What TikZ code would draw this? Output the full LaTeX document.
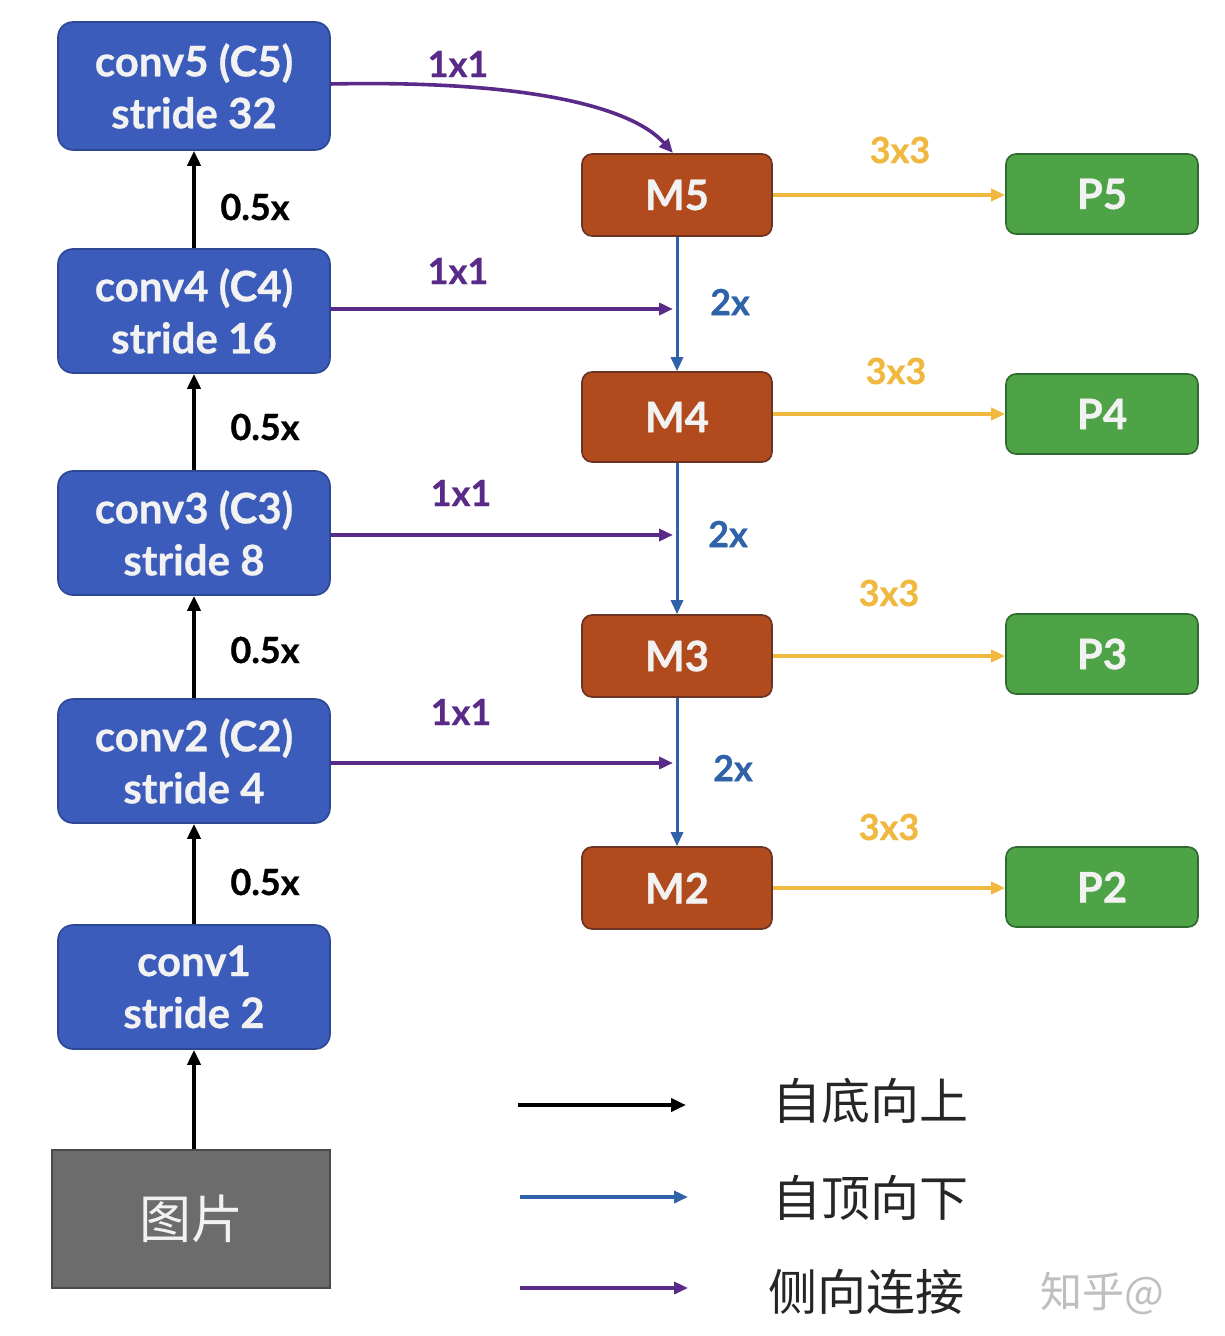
\documentclass[tikz,border=0pt]{standalone}
\usepackage{fontspec}
\setmainfont{Lato}
\newfontfamily\boxfont{Lato}[BoldFeatures={FakeBold=0.7}]
\newfontfamily\cjk{Noto Sans CJK SC}
\usetikzlibrary{arrows.meta}
\definecolor{cblue}{HTML}{3B5CBA}
\definecolor{cblueD}{HTML}{2C4794}
\definecolor{mfill}{HTML}{B14A1C}
\definecolor{mdraw}{HTML}{6A3322}
\definecolor{pfill}{HTML}{4DA346}
\definecolor{pdraw}{HTML}{2F6B30}
\definecolor{gfill}{HTML}{6C6C6C}
\definecolor{gdraw}{HTML}{4A4A4A}
\definecolor{lpurple}{HTML}{5A2A88}
\definecolor{lblue}{HTML}{2F62A8}
\definecolor{lyellow}{HTML}{F0B83E}
\definecolor{ltext}{HTML}{F2F2F2}
\begin{document}
\begin{tikzpicture}[x=0.5pt,y=-0.5pt,
  cbox/.style={draw=cblueD, line width=0.8pt, fill=cblue, rounded corners=7.5pt,
    minimum width=136pt, minimum height=62pt, align=center, text=ltext,
    font=\boxfont\bfseries\fontsize{21}{26}\selectfont, inner sep=0pt},
  mbox/.style={draw=mdraw, line width=0.8pt, fill=mfill, rounded corners=5pt,
    minimum width=95pt, minimum height=41pt, text=ltext,
    font=\boxfont\bfseries\fontsize{21}{26}\selectfont, inner sep=0pt},
  pbox/.style={draw=pdraw, line width=0.8pt, fill=pfill, rounded corners=5pt,
    minimum width=96pt, minimum height=40pt, text=ltext,
    font=\boxfont\bfseries\fontsize{21}{26}\selectfont, inner sep=0pt},
  upar/.style={draw=black, line width=2.2pt, -{Triangle[length=7.5pt,width=6.5pt]}},
  dnar/.style={draw=lblue, line width=1.5pt, -{Triangle[length=7pt,width=6pt]}},
  latar/.style={draw=lpurple, line width=1.8pt, -{Triangle[length=7pt,width=6pt]}},
  yar/.style={draw=lyellow, line width=1.8pt, -{Triangle[length=7pt,width=6pt]}},
  lbl/.style={font=\boxfont\bfseries\fontsize{18}{20}\selectfont, inner sep=0pt},
  leg/.style={font=\cjk\fontsize{24.5}{26}\selectfont, anchor=west, inner sep=0pt, text=black!85}
]
\useasboundingbox (0,0) rectangle (1224,1336);
\fill[white] (0,0) rectangle (1224,1336);

% backbone
\node[cbox, minimum height=64pt] (c5) at (194,86) {conv5 (C5)\\stride 32};
\node[cbox] (c4) at (194,311) {conv4 (C4)\\stride 16};
\node[cbox] (c3) at (194,533) {conv3 (C3)\\stride 8};
\node[cbox] (c2) at (194,761) {conv2 (C2)\\stride 4};
\node[cbox] (c1) at (194,987) {conv1\\stride 2};
\node[draw=gdraw, line width=0.8pt, fill=gfill, minimum width=139pt, minimum height=69pt,
  text=ltext, font=\cjk\fontsize{26}{28}\selectfont, inner sep=0pt] (img) at (191,1219) {图片};

% M boxes
\node[mbox] (m5) at (677,195) {M5};
\node[mbox, minimum height=45pt] (m4) at (677,417) {M4};
\node[mbox] (m3) at (677,656) {M3};
\node[mbox] (m2) at (677,888) {M2};

% P boxes
\node[pbox] (p5) at (1102,194) {P5};
\node[pbox] (p4) at (1102,414) {P4};
\node[pbox] (p3) at (1102,654) {P3};
\node[pbox] (p2) at (1102,887) {P2};

% bottom-up arrows
\draw[upar] (img.north -| c1.south) -- (c1.south);
\draw[upar] (c1.north) -- (c2.south);
\draw[upar] (c2.north) -- (c3.south);
\draw[upar] (c3.north) -- (c4.south);
\draw[upar] (c4.north) -- (c5.south);
\node[lbl] (h1) at (265,882) {0.5x};
\node[lbl] (h2) at (265,650) {0.5x};
\node[lbl] (h3) at (265,427) {0.5x};
\node[lbl] (h4) at (255,207) {0.5x};

% top-down arrows
\draw[dnar] (m5.south) -- (m4.north);
\draw[dnar] (m4.south) -- (m3.north);
\draw[dnar] (m3.south) -- (m2.north);
\node[lbl, text=lblue] (d1) at (730,302) {2x};
\node[lbl, text=lblue] (d2) at (728,534) {2x};
\node[lbl, text=lblue] (d3) at (733,768) {2x};

% lateral connections
\coordinate (t4) at (673,309);
\coordinate (t3) at (673,535);
\coordinate (t2) at (673,763);
\coordinate (s5) at (330,84);
\coordinate (t5) at (673,153);
\draw[latar] (s5) .. controls (520,80) and (630,105) .. (t5);
\draw[latar] (c4.east |- t4) -- (t4);
\draw[latar] (c3.east |- t3) -- (t3);
\draw[latar] (c2.east |- t2) -- (t2);
\node[lbl, text=lpurple] (l5) at (458,64) {1x1};
\node[lbl, text=lpurple] (l4) at (458,271) {1x1};
\node[lbl, text=lpurple] (l3) at (461,493) {1x1};
\node[lbl, text=lpurple] (l2) at (461,712) {1x1};

% 3x3 convs
\draw[yar] (m5.east) -- (p5.west |- m5.east);
\draw[yar] (m4.east |- p4.west) -- (p4.west);
\draw[yar] (m3.east) -- (p3.west |- m3.east);
\draw[yar] (m2.east) -- (p2.west |- m2.east);
\node[lbl, text=lyellow] (y5) at (900,150) {3x3};
\node[lbl, text=lyellow] (y4) at (896,371) {3x3};
\node[lbl, text=lyellow] (y3) at (889,593) {3x3};
\node[lbl, text=lyellow] (y2) at (889,827) {3x3};

% legend
\coordinate (a1s) at (518,1105); \coordinate (a1e) at (686,1105);
\coordinate (a2s) at (520,1197); \coordinate (a2e) at (688,1197);
\coordinate (a3s) at (520,1288); \coordinate (a3e) at (688,1288);
\draw[upar] (a1s) -- (a1e);
\draw[dnar, line width=1.8pt] (a2s) -- (a2e);
\draw[latar, line width=2.2pt] (a3s) -- (a3e);
\node[leg] (g1) at (772,1101) {自底向上};
\node[leg] (g2) at (772,1198) {自顶向下};
\node[leg] (g3) at (768,1292) {侧向连接};
\node[font=\cjk\fontsize{21}{22}\selectfont, text=black!25, anchor=west, inner sep=0pt] (wm) at (1040,1293) {知乎@};
\end{tikzpicture}
\end{document}
